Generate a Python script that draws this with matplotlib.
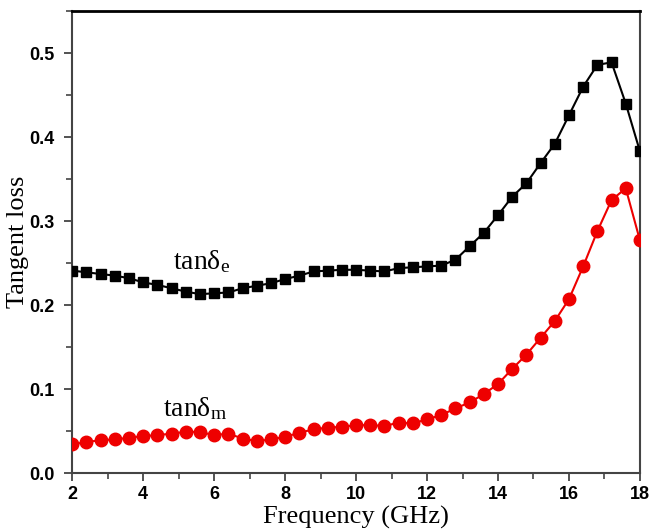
import numpy as np
import matplotlib.pyplot as plt
from matplotlib.ticker import MultipleLocator

freq = np.round(np.arange(2.0, 18.01, 0.4), 1)  # 41 points, 0.4 GHz step

tan_e = [0.241, 0.239, 0.237, 0.235, 0.232, 0.227, 0.224, 0.220, 0.216, 0.213,
         0.214, 0.215, 0.220, 0.223, 0.226, 0.231, 0.235, 0.240, 0.241, 0.242,
         0.242, 0.241, 0.240, 0.244, 0.245, 0.246, 0.247, 0.254, 0.270, 0.286,
         0.307, 0.329, 0.345, 0.369, 0.392, 0.426, 0.460, 0.486, 0.489, 0.440,
         0.383]
tan_m = [0.034, 0.037, 0.039, 0.040, 0.042, 0.044, 0.045, 0.047, 0.049, 0.049,
         0.045, 0.047, 0.041, 0.038, 0.040, 0.043, 0.048, 0.052, 0.054, 0.055,
         0.057, 0.057, 0.056, 0.060, 0.059, 0.064, 0.069, 0.077, 0.084, 0.094,
         0.106, 0.124, 0.141, 0.161, 0.181, 0.207, 0.246, 0.288, 0.325, 0.339,
         0.277]

plt.rcParams['mathtext.fontset'] = 'custom'
plt.rcParams['mathtext.rm'] = 'Liberation Serif'

fig = plt.figure(figsize=(6.51, 5.30), dpi=100)
ax = fig.add_axes([0.111, 0.1075, 0.872, 0.8715])

ax.plot(freq, tan_e, color='black', lw=1.5, marker='s', ms=7.5, zorder=3)
ax.plot(freq, tan_m, color='#ee0000', lw=1.5, marker='o', ms=9, zorder=3)

ax.text(5.65, 0.252, '$\\mathrm{tanδ_{e}}$', fontsize=20,
        ha='center', va='center')
ax.text(5.45, 0.077, '$\\mathrm{tanδ_{m}}$', fontsize=20,
        ha='center', va='center')

ax.set_xlim(2, 18)
ax.set_ylim(0, 0.55)
ax.xaxis.set_major_locator(MultipleLocator(2))
ax.xaxis.set_minor_locator(MultipleLocator(1))
ax.yaxis.set_major_locator(MultipleLocator(0.1))
ax.yaxis.set_minor_locator(MultipleLocator(0.05))
ax.yaxis.set_major_formatter(plt.FormatStrFormatter('%.1f'))

ax.tick_params(which='major', direction='out', length=6, width=1.3,
               color='#444444', labelsize=13)
ax.tick_params(which='minor', direction='out', length=4, width=1.2,
               color='#444444')
ax.tick_params(axis='y', pad=7)
ax.tick_params(axis='x', pad=3)
for lab in ax.get_xticklabels() + ax.get_yticklabels():
    lab.set_family('Liberation Sans')
    lab.set_fontweight('bold')

for side in ['left', 'bottom', 'right']:
    ax.spines[side].set_color('#444444')
    ax.spines[side].set_linewidth(1.5)
ax.spines['top'].set_color('black')
ax.spines['top'].set_linewidth(2)

ax.set_xlabel('Frequency (GHz)', family='Liberation Serif', fontsize=19)
ax.set_ylabel('Tangent loss', family='Liberation Serif', fontsize=19)
ax.xaxis.set_label_coords(0.5, -0.072)
ax.yaxis.set_label_coords(-0.076, 0.5)

fig.savefig('out.png', dpi=100)
